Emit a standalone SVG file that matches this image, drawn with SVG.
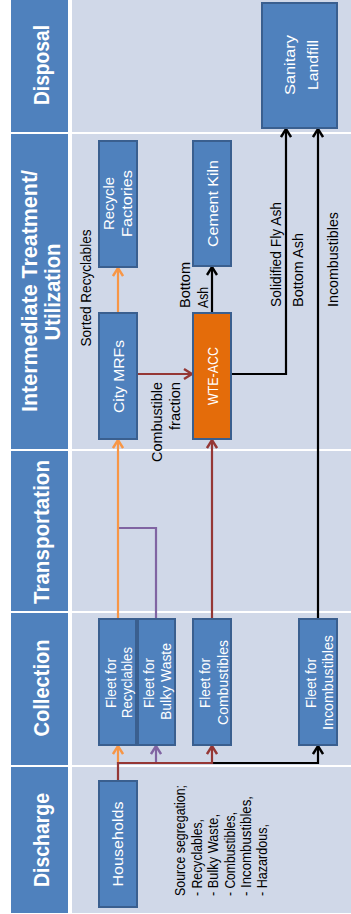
<svg xmlns="http://www.w3.org/2000/svg" width="351" height="914" viewBox="0 0 351 914">
<style>
.hdr{fill:#4F81BD}
.hdrt{font-family:"Liberation Sans",Arial,sans-serif;font-weight:bold;font-size:22px;fill:#fff;text-anchor:middle}
.box{fill:#4F81BD;stroke:#3A5F8F;stroke-width:2}
.boxo{fill:#E46C0A;stroke:#3A5F8F;stroke-width:2}
.nt{font-family:"Liberation Sans",Arial,sans-serif;font-size:15px;fill:#fff;text-anchor:middle}
.lb{font-family:"Liberation Sans",Arial,sans-serif;font-size:14px;fill:#000}
.sep{stroke:#fff;stroke-width:2}
.c{fill:none;stroke-width:2.2}
.or{stroke:#F79646}
.pu{stroke:#8064A2}
.rd{stroke:#953735}
.bk{stroke:#000}
</style>
<defs>
<marker id="aor" viewBox="0 0 12 12" refX="11" refY="6" markerWidth="12" markerHeight="12" markerUnits="userSpaceOnUse" orient="auto"><path d="M3,1 L11,6 L3,11" fill="none" stroke="#F79646" stroke-width="2.4"/></marker>
<marker id="apu" viewBox="0 0 12 12" refX="11" refY="6" markerWidth="12" markerHeight="12" markerUnits="userSpaceOnUse" orient="auto"><path d="M3,1 L11,6 L3,11" fill="none" stroke="#8064A2" stroke-width="2.4"/></marker>
<marker id="ard" viewBox="0 0 12 12" refX="11" refY="6" markerWidth="12" markerHeight="12" markerUnits="userSpaceOnUse" orient="auto"><path d="M3,1 L11,6 L3,11" fill="none" stroke="#953735" stroke-width="2.4"/></marker>
<marker id="abk" viewBox="0 0 12 12" refX="11" refY="6" markerWidth="12" markerHeight="12" markerUnits="userSpaceOnUse" orient="auto"><path d="M3,1 L11,6 L3,11" fill="none" stroke="#000" stroke-width="2.4"/></marker>
</defs>
<rect width="351" height="914" fill="#fff"/>
<g id="lanes">
<rect x="72" y="0" width="279" height="913" fill="#D0D8E8"/>
<line class="sep" x1="72" y1="133" x2="351" y2="133"/>
<line class="sep" x1="72" y1="450" x2="351" y2="450"/>
<line class="sep" x1="72" y1="612" x2="351" y2="612"/>
<line class="sep" x1="72" y1="766" x2="351" y2="766"/>
<rect class="hdr" x="11" y="0" width="57" height="132"/>
<rect class="hdr" x="11" y="134" width="57" height="315"/>
<rect class="hdr" x="11" y="451" width="57" height="160"/>
<rect class="hdr" x="11" y="613" width="57" height="152"/>
<rect class="hdr" x="11" y="767" width="57" height="146"/>
<text class="hdrt" transform="translate(48.5,65) rotate(-90)" textLength="80" lengthAdjust="spacingAndGlyphs">Disposal</text>
<text class="hdrt" transform="translate(36.5,291) rotate(-90)" textLength="242" lengthAdjust="spacingAndGlyphs">Intermediate Treatment/</text>
<text class="hdrt" transform="translate(59.5,292) rotate(-90)" textLength="97" lengthAdjust="spacingAndGlyphs">Utilization</text>
<text class="hdrt" transform="translate(48.5,532) rotate(-90)" textLength="144" lengthAdjust="spacingAndGlyphs">Transportation</text>
<text class="hdrt" transform="translate(48.5,688) rotate(-90)" textLength="97" lengthAdjust="spacingAndGlyphs">Collection</text>
<text class="hdrt" transform="translate(48.5,840) rotate(-90)" textLength="94" lengthAdjust="spacingAndGlyphs">Discharge</text>
</g>
<g id="connectors">
<path class="c or" d="M118,763 V746" marker-end="url(#aor)"/>
<path class="c pu" d="M156,763 V746" marker-end="url(#apu)"/>
<path class="c bk" d="M212,763 H318 V746" marker-end="url(#abk)"/>
<path class="c rd" d="M118,781 V763 H212 V746" marker-end="url(#ard)"/>
<path class="c pu" d="M156,619 V528 H119"/>
<path class="c or" d="M118,619 V440" marker-end="url(#aor)"/>
<path class="c rd" d="M212,619 V440" marker-end="url(#ard)"/>
<path class="c bk" d="M318,619 V129" marker-end="url(#abk)"/>
<path class="c or" d="M118,313 V268" marker-end="url(#aor)"/>
<path class="c rd" d="M137,374 H192" marker-end="url(#ard)"/>
<path class="c bk" d="M212,313 V267" marker-end="url(#abk)"/>
<path class="c bk" d="M231,374 H286 V129" marker-end="url(#abk)"/>
</g>
<g id="labels">
<text class="lb" transform="translate(90.5,288) rotate(-90)" text-anchor="middle" textLength="117" lengthAdjust="spacingAndGlyphs">Sorted Recyclables</text>
<text class="lb" transform="translate(190,308) rotate(-90)" textLength="46" lengthAdjust="spacingAndGlyphs">Bottom</text>
<text class="lb" transform="translate(208,308) rotate(-90)" textLength="21" lengthAdjust="spacingAndGlyphs">Ash</text>
<text class="lb" transform="translate(162,382) rotate(-90)" text-anchor="end" textLength="80" lengthAdjust="spacingAndGlyphs">Combustible</text>
<text class="lb" transform="translate(180,382) rotate(-90)" text-anchor="end" textLength="48" lengthAdjust="spacingAndGlyphs">fraction</text>
<text class="lb" transform="translate(281,307) rotate(-90)" textLength="105" lengthAdjust="spacingAndGlyphs">Solidified Fly Ash</text>
<text class="lb" transform="translate(303,307) rotate(-90)" textLength="74" lengthAdjust="spacingAndGlyphs">Bottom Ash</text>
<text class="lb" transform="translate(338,307) rotate(-90)" textLength="95" lengthAdjust="spacingAndGlyphs" style="font-size:15px">Incombustibles</text>
<text class="lb" transform="translate(185,896) rotate(-90)" textLength="111" lengthAdjust="spacingAndGlyphs">Source segregation;</text>
<text class="lb" transform="translate(201.5,896) rotate(-90)" textLength="77" lengthAdjust="spacingAndGlyphs">- Recyclables,</text>
<text class="lb" transform="translate(218,896) rotate(-90)" textLength="82" lengthAdjust="spacingAndGlyphs">- Bulky Waste,</text>
<text class="lb" transform="translate(234.5,896) rotate(-90)" textLength="84" lengthAdjust="spacingAndGlyphs">- Combustibles,</text>
<text class="lb" transform="translate(250.5,896) rotate(-90)" textLength="100" lengthAdjust="spacingAndGlyphs">- Incombustibles,</text>
<text class="lb" transform="translate(267,896) rotate(-90)" textLength="72" lengthAdjust="spacingAndGlyphs">- Hazardous,</text>
</g>
<g id="n-landfill">
<rect class="box" x="262" y="3" width="75" height="125"/>
<text class="nt" transform="translate(295,65) rotate(-90)" textLength="60" lengthAdjust="spacingAndGlyphs">Sanitary</text>
<text class="nt" transform="translate(318,65) rotate(-90)" textLength="50" lengthAdjust="spacingAndGlyphs">Landfill</text>
</g>
<g id="n-recycle">
<rect class="box" x="99" y="141" width="38" height="126"/>
<text class="nt" transform="translate(113.5,203.5) rotate(-90)" textLength="53" lengthAdjust="spacingAndGlyphs">Recycle</text>
<text class="nt" transform="translate(131.5,203.5) rotate(-90)" textLength="67" lengthAdjust="spacingAndGlyphs">Factories</text>
</g>
<g id="n-cement">
<rect class="box" x="193" y="141" width="38" height="125"/>
<text class="nt" transform="translate(218,203.5) rotate(-90)" textLength="87" lengthAdjust="spacingAndGlyphs">Cement Kiln</text>
</g>
<g id="n-mrf">
<rect class="box" x="99" y="313" width="38" height="126"/>
<text class="nt" transform="translate(123.5,376.5) rotate(-90)" textLength="73" lengthAdjust="spacingAndGlyphs">City MRFs</text>
</g>
<g id="n-wte">
<rect class="boxo" x="193" y="313" width="38" height="126"/>
<text class="nt" transform="translate(217.5,376) rotate(-90)" textLength="58" lengthAdjust="spacingAndGlyphs">WTE-ACC</text>
</g>
<g id="n-fleet-rec">
<rect class="box" x="99" y="619" width="37" height="126"/>
<text class="nt" transform="translate(115.5,683) rotate(-90)" textLength="50" lengthAdjust="spacingAndGlyphs">Fleet for</text>
<text class="nt" transform="translate(132,682.5) rotate(-90)" textLength="71" lengthAdjust="spacingAndGlyphs">Recyclables</text>
</g>
<g id="n-fleet-bulky">
<rect class="box" x="138" y="619" width="37" height="126"/>
<text class="nt" transform="translate(153.5,683) rotate(-90)" textLength="50" lengthAdjust="spacingAndGlyphs">Fleet for</text>
<text class="nt" transform="translate(170.5,681.5) rotate(-90)" textLength="77" lengthAdjust="spacingAndGlyphs">Bulky Waste</text>
</g>
<g id="n-fleet-comb">
<rect class="box" x="193" y="619" width="38" height="126"/>
<text class="nt" transform="translate(209.5,683) rotate(-90)" textLength="50" lengthAdjust="spacingAndGlyphs">Fleet for</text>
<text class="nt" transform="translate(228,682.5) rotate(-90)" textLength="85" lengthAdjust="spacingAndGlyphs">Combustibles</text>
</g>
<g id="n-fleet-incomb">
<rect class="box" x="299" y="619" width="38" height="126"/>
<text class="nt" transform="translate(315.5,683) rotate(-90)" textLength="50" lengthAdjust="spacingAndGlyphs">Fleet for</text>
<text class="nt" transform="translate(333,682.5) rotate(-90)" textLength="95" lengthAdjust="spacingAndGlyphs">Incombustibles</text>
</g>
<g id="n-households">
<rect class="box" x="99" y="781" width="38" height="126"/>
<text class="nt" transform="translate(123,844) rotate(-90)" textLength="85" lengthAdjust="spacingAndGlyphs">Households</text>
</g>
</svg>
